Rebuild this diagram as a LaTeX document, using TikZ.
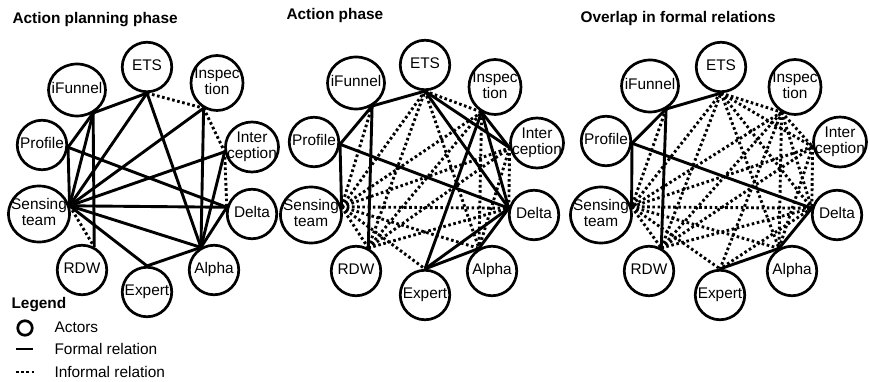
\documentclass[tikz,border=0pt]{standalone}
\usepackage{fontspec}
\setmainfont{Liberation Sans}
\usetikzlibrary{shapes.geometric}
\newcommand\nt[1]{\makebox[0pt]{\begin{tabular}{@{}c@{}}#1\end{tabular}}}
\def\angets{-90}
\def\angifu{-55}
\def\angins{-118}
\def\angint{190}
\def\angpro{-5}
\def\angsen{15}
\def\angdel{165}
\def\angrdw{62}
\def\angexp{90}
\def\angalp{120}
\newcommand\conn[4][formal]{\edef\tmpc{\noexpand\draw[#1] (#2-#3.\csname ang#3\endcsname) -- (#2-#4.\csname ang#4\endcsname);}\tmpc}
\begin{document}
\begin{tikzpicture}[x=1pt,y=-1pt,
  font=\fontsize{15.4}{16.5}\selectfont,
  actor/.style={ellipse, draw, line width=2.7pt, minimum width=49.5pt, minimum height=49.5pt, inner sep=0pt},
  ifu/.style={minimum width=57pt, minimum height=52pt},
  ins/.style={minimum width=52pt, minimum height=55pt},
  int/.style={minimum width=53pt, minimum height=50pt},
  sen/.style={minimum width=61pt, minimum height=56pt},
  formal/.style={line width=2.9pt},
  informal/.style={line width=2.9pt, dash pattern=on 2.6pt off 2.6pt},
  title/.style={anchor=base west, font=\fontsize{15.4}{16.5}\selectfont\bfseries}]
\useasboundingbox (0,0) rectangle (870,382);

% titles
\node[title] (t1) at (9,24) {Action planning phase};
\node[title] (t2) at (283,20) {Action phase};
\node[title] (t3) at (577,23) {Overlap in formal relations};

% panel a
\node[actor] (a-ets) at (147,67) {\nt{ETS}};
\node[actor, ifu] (a-ifu) at (77,90) {\nt{iFunnel}};
\node[actor, ins] (a-ins) at (217,83) {\nt{Inspec\\tion}};
\node[actor, int] (a-int) at (252,147) {\nt{Inter\\ception}};
\node[actor] (a-pro) at (42,145) {\nt{Profile}};
\node[actor, sen] (a-sen) at (39,214) {\nt{Sensing\\team}};
\node[actor] (a-del) at (252,214) {\nt{Delta}};
\node[actor] (a-rdw) at (82,270) {\nt{RDW}};
\node[actor] (a-exp) at (147,292) {\nt{Expert}};
\node[actor] (a-alp) at (214,270) {\nt{Alpha}};

% panel b
\node[actor] (b-ets) at (425,65) {\nt{ETS}};
\node[actor, ifu] (b-ifu) at (356,83) {\nt{iFunnel}};
\node[actor, ins] (b-ins) at (495,87) {\nt{Inspec\\tion}};
\node[actor, int] (b-int) at (537,143) {\nt{Inter\\ception}};
\node[actor] (b-pro) at (314,142) {\nt{Profile}};
\node[actor, sen] (b-sen) at (311,215) {\nt{Sensing\\team}};
\node[actor] (b-del) at (534,215) {\nt{Delta}};
\node[actor] (b-rdw) at (356,271) {\nt{RDW}};
\node[actor] (b-exp) at (425,295) {\nt{Expert}};
\node[actor] (b-alp) at (492,271) {\nt{Alpha}};

% panel c
\node[actor] (c-ets) at (721,67) {\nt{ETS}};
\node[actor, ifu] (c-ifu) at (650,86) {\nt{iFunnel}};
\node[actor, ins] (c-ins) at (795,87) {\nt{Inspec\\tion}};
\node[actor, int] (c-int) at (840,142) {\nt{Inter\\ception}};
\node[actor] (c-pro) at (606,141) {\nt{Profile}};
\node[actor, sen] (c-sen) at (601,215) {\nt{Sensing\\team}};
\node[actor] (c-del) at (837,215) {\nt{Delta}};
\node[actor] (c-rdw) at (649,271) {\nt{RDW}};
\node[actor] (c-exp) at (720,295) {\nt{Expert}};
\node[actor] (c-alp) at (792,271) {\nt{Alpha}};

% panel a edges
\foreach \u/\v in {ets/ifu, ets/sen, ets/alp, ifu/pro, ifu/rdw, ifu/sen, pro/sen, pro/del, ins/sen, ins/alp, int/sen, int/alp, sen/del, sen/alp, sen/exp, exp/alp, alp/del}
  {\conn[formal]{a}{\u}{\v}}
\foreach \u/\v in {ets/ins, ins/int, int/del, sen/rdw}
  {\conn[informal]{a}{\u}{\v}}

% panel b edges
\foreach \u/\v in {ets/ifu, ifu/pro, ifu/rdw, pro/sen, pro/del, ets/del, ets/int, ins/int, ins/exp, ins/del, del/exp, alp/exp, del/alp}
  {\conn[formal]{b}{\u}{\v}}
\foreach \u/\v in {sen/ifu, sen/ets, sen/ins, sen/int, sen/del, sen/alp, sen/exp, sen/rdw, rdw/ets, rdw/ins, rdw/int, rdw/del, ets/ins, ets/alp, ins/alp, int/del, int/alp}
  {\conn[informal]{b}{\u}{\v}}

% panel c edges
\foreach \u/\v in {ets/ifu, ifu/pro, ifu/rdw, pro/sen, pro/del, del/alp, alp/exp}
  {\conn[formal]{c}{\u}{\v}}
\foreach \u/\v in {ets/sen, ets/alp, ifu/sen, ins/sen, ins/alp, int/sen, int/alp, sen/del, sen/alp, sen/exp, ets/del, ets/int, ins/int, ins/exp, ins/del, del/exp, sen/rdw, rdw/ets, rdw/ins, rdw/int, rdw/del, ets/ins, int/del}
  {\conn[informal]{c}{\u}{\v}}

% legend
\node[title] (leg) at (8,308) {Legend};
\node[circle, draw, line width=2.7pt, minimum size=14.5pt, inner sep=0pt] (legc) at (25,328) {};
\node[anchor=base west] (lact) at (51,332) {Actors};
\coordinate (lf1) at (16,349);
\coordinate (lf2) at (33,349);
\draw[formal] (lf1) -- (lf2);
\node[anchor=base west] (lfor) at (51,354) {Formal relation};
\coordinate (li1) at (16,372);
\coordinate (li2) at (35,372);
\draw[informal] (li1) -- (li2);
\node[anchor=base west] (linf) at (51,377) {Informal relation};
\end{tikzpicture}
\end{document}
